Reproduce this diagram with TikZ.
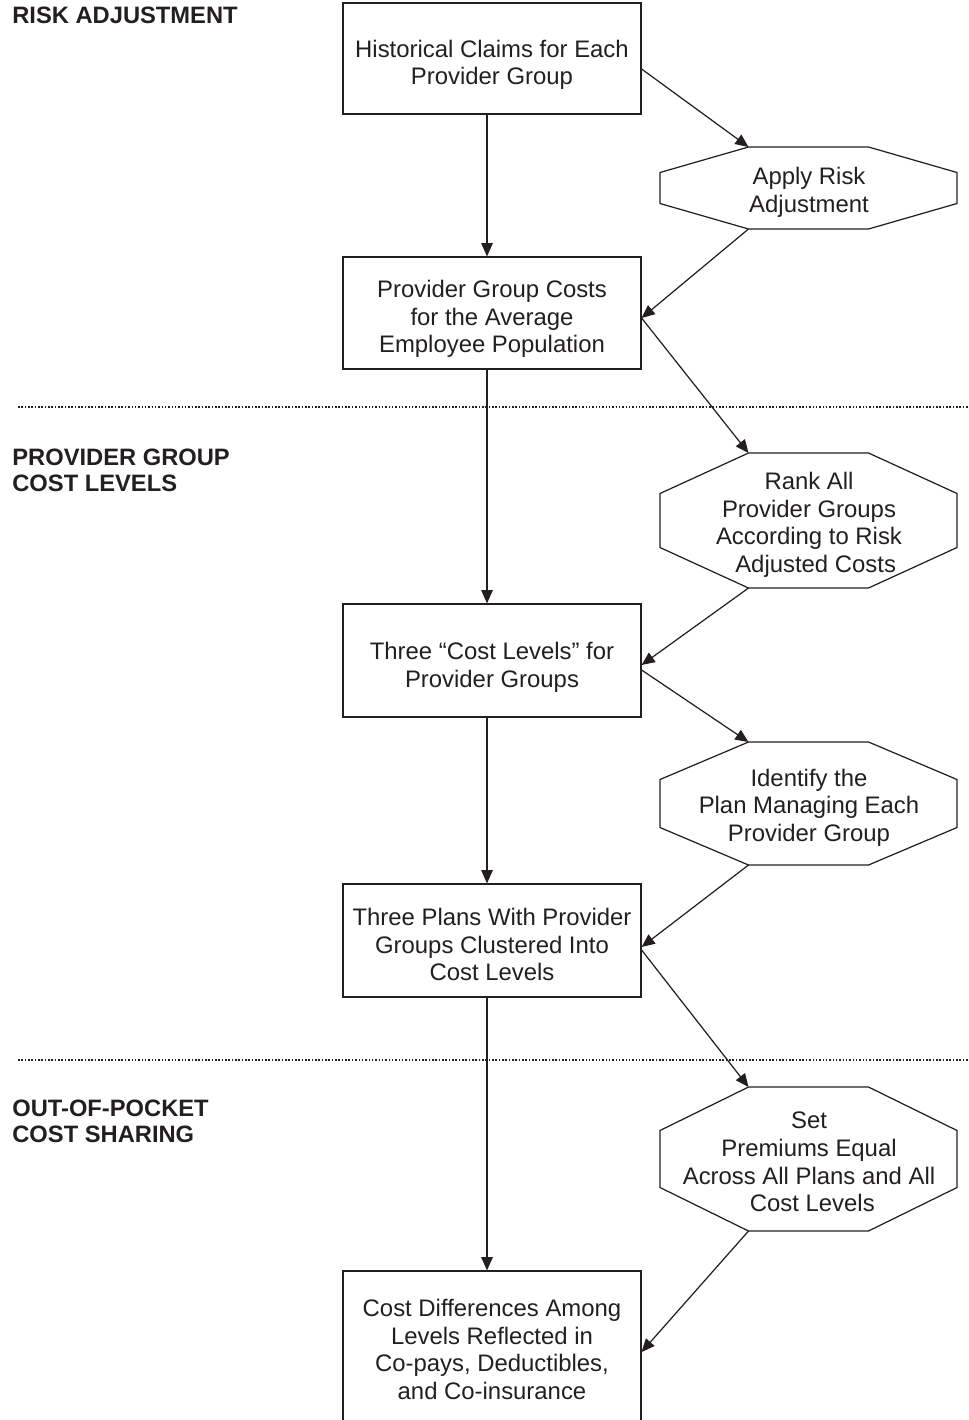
\documentclass[tikz,border=0pt]{standalone}
\usepackage{fontspec}
\setmainfont{Liberation Sans}
\usetikzlibrary{arrows.meta}
\definecolor{ink}{RGB}{35,31,32}
\newcommand{\octo}[5]{%
  \coordinate (#1-tl) at ({#2-60},{#3-#4});
  \coordinate (#1-bl) at ({#2-60},{#3+#4});
  \draw[shape line] ({#2-60},{#3-#4}) -- ({#2+60},{#3-#4}) -- ({#2+148.5},{#3-#5})
    -- ({#2+148.5},{#3+#5}) -- ({#2+60},{#3+#4}) -- ({#2-60},{#3+#4})
    -- ({#2-148.5},{#3+#5}) -- ({#2-148.5},{#3-#5}) -- cycle;}
\begin{document}
\begin{tikzpicture}[x=0.02cm,y=-0.02cm,
  every node/.style={text=ink},
  shape line/.style={draw=ink,line width=0.7pt},
  box/.style={shape line,rectangle,minimum width=5.96cm,inner sep=0pt},
  txt/.style={inner sep=0pt,align=center,font=\fontsize{13.6}{15.7}\selectfont},
  sec/.style={inner sep=0pt,align=left,anchor=base west,
    font=\fontsize{13.5}{14.8}\selectfont\bfseries},
  arr/.style={draw=ink,line width=0.7pt,-{Triangle[length=7.5pt,width=6.5pt]}},
  sep/.style={draw=ink,line width=0.9pt,dash pattern=on 0.9pt off 1pt}]
\useasboundingbox (0,0) rectangle (969,1420);
\begin{scope}
\clip (0,0) rectangle (969,1420);
% section labels
\node[sec] (s1) at (12,23) {RISK ADJUSTMENT};
\node[sec] (s2) at (12,491) {PROVIDER GROUP\\COST LEVELS};
\node[sec] (s3) at (12,1142) {OUT-OF-POCKET\\COST SHARING};
% separators
\coordinate (d1a) at (18,407); \coordinate (d1b) at (969,407);
\coordinate (d2a) at (18,1060); \coordinate (d2b) at (969,1060);
\draw[sep] (d1a) -- (d1b);
\draw[sep] (d2a) -- (d2b);
% boxes
\node[box,minimum height=2.22cm] (b1) at (492,58.5) {};
\node[box,minimum height=2.24cm] (b2) at (492,313) {};
\node[box,minimum height=2.26cm] (b3) at (492,660.5) {};
\node[box,minimum height=2.26cm] (b4) at (492,940.5) {};
\node[box,minimum height=3.38cm] (b5) at (492,1355.5) {};
\node[txt] (b1t) at (492,65) {Historical Claims for Each\\Provider Group};
\node[txt] (b2t) at (492,319) {Provider Group Costs\\for the Average\\Employee Population};
\node[txt] (b3t) at (492,667.5) {Three ``Cost Levels'' for\\Provider Groups};
\node[txt] (b4t) at (492,944.5) {Three Plans With Provider\\Groups Clustered Into\\Cost Levels};
\node[txt] (b5t) at (492,1349.5) {Cost Differences Among\\Levels Reflected in\\Co-pays, Deductibles,\\and Co-insurance};
% octagons
\octo{o1}{808.5}{188}{41}{15.5}
\octo{o2}{808.5}{520.5}{67.5}{27}
\octo{o3}{808.5}{803.5}{61.5}{24}
\octo{o4}{808.5}{1159}{72}{28.5}
\node[txt] (t1) at (809,192.5) {Apply Risk\\Adjustment};
\node[txt] (t2) at (809,525) {Rank All\\Provider Groups\\According to Risk\\\ \ Adjusted Costs};
\node[txt] (t3) at (809,807.5) {Identify the\\Plan Managing Each\\Provider Group};
\node[txt] (t4) at (809,1162) {Set\\Premiums Equal\\Across All Plans and All\\\ Cost Levels};
% vertical arrows
\draw[arr] ([xshift=-0.1cm]b1.south) -- ([xshift=-0.1cm]b2.north);
\draw[arr] ([xshift=-0.1cm]b2.south) -- ([xshift=-0.1cm]b3.north);
\draw[arr] ([xshift=-0.1cm]b3.south) -- ([xshift=-0.1cm]b4.north);
\draw[arr] ([xshift=-0.1cm]b4.south) -- ([xshift=-0.1cm]b5.north);
% diagonal arrows
\draw[arr] ([yshift=-0.21cm]b1.east) -- (o1-tl);
\draw[arr] (o1-bl) -- ([yshift=-0.1cm]b2.east);
\draw[arr] ([yshift=-0.1cm]b2.east) -- (o2-tl);
\draw[arr] (o2-bl) -- ([yshift=-0.09cm]b3.east);
\draw[arr] ([yshift=-0.19cm]b3.east) -- (o3-tl);
\draw[arr] (o3-bl) -- ([yshift=-0.13cm]b4.east);
\draw[arr] ([yshift=-0.19cm]b4.east) -- (o4-tl);
\draw[arr] (o4-bl) -- ([yshift=0.07cm]b5.east);
\end{scope}
\end{tikzpicture}
\end{document}
